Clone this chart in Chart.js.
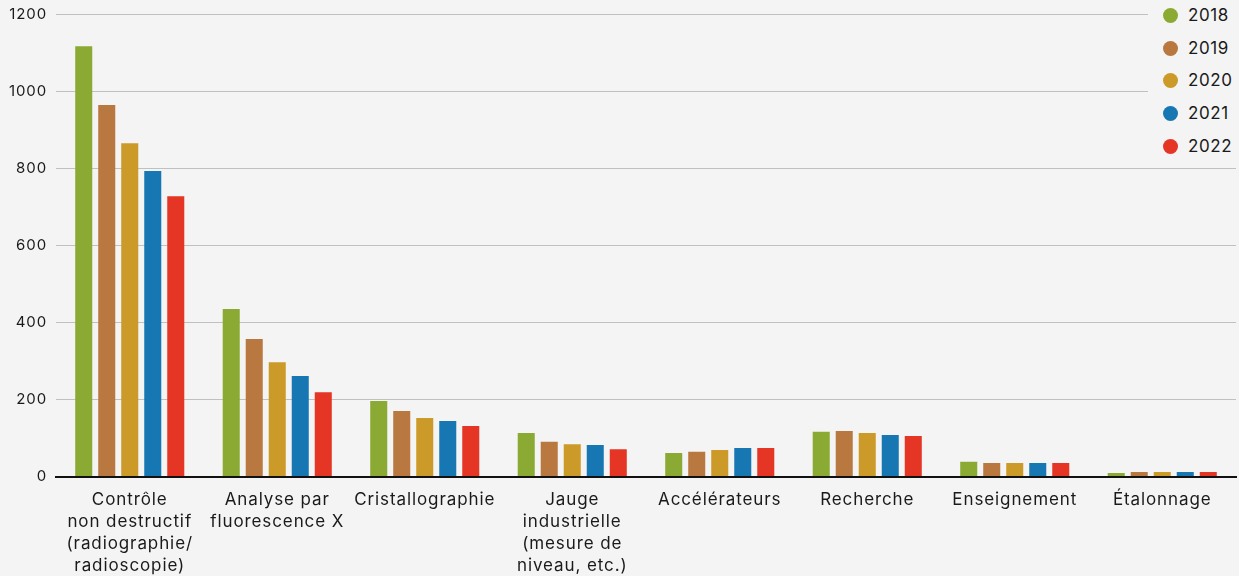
<!DOCTYPE html>
<html>
<head>
<meta charset="utf-8">
<script src="https://cdn.jsdelivr.net/npm/chart.js@4"></script>
<style>
  html, body { margin:0; padding:0; background:#f4f4f4; }
  #wrap { position:relative; width:1239px; height:576px; }
  #legend { position:absolute; left:1148px; top:0; width:91px; height:162px; background:#f4f4f4; font-family: Inter, 'Open Sans', sans-serif; font-size:17px; letter-spacing:0.6px; color:#1a1a1a; }
  .item { position:absolute; left:0; height:20px; line-height:20px; }
  .dot { position:absolute; left:15px; top:2.5px; width:15px; height:15px; border-radius:50%; }
  .lbl { position:absolute; left:40px; top:0; white-space:nowrap; }
</style>
</head>
<body>
<div id="wrap">
  <canvas id="c" width="1239" height="576"></canvas>
  <div id="legend"></div>
</div>
<script>
const categories = [
  ["Contrôle","non destructif","(radiographie/","radioscopie)"],
  ["Analyse par","fluorescence X"],
  "Cristallographie",
  ["Jauge","industrielle","(mesure de","niveau, etc.)"],
  "Accélérateurs",
  "Recherche",
  "Enseignement",
  "Étalonnage"
];
const years = ["2018","2019","2020","2021","2022"];
const v2018 = [1118, 435, 196, 113, 61, 116, 38, 9];
const v2019 = [965, 357, 170, 90, 64, 118, 35, 12];
const v2020 = [866, 297, 152, 84, 69, 113, 35, 12];
const v2021 = [794, 261, 144, 82, 74, 108, 35, 12];
const v2022 = [728, 219, 131, 71, 74, 105, 35, 12];
const yTicks = [0, 200, 400, 600, 800, 1000, 1200];
const colors = ["#8aaa33", "#b87840", "#cc9a28", "#1677b3", "#e53524"];
const series = [v2018, v2019, v2020, v2021, v2022];

const FONT = "Inter, 'Open Sans', sans-serif";

const spacing = {
  id: 'spacing',
  beforeLayout(chart) { chart.ctx.letterSpacing = '0.9px'; },
  beforeDraw(chart) { chart.ctx.letterSpacing = '0.9px'; }
};

new Chart(document.getElementById('c'), {
  type: 'bar',
  data: {
    labels: categories,
    datasets: series.map((d, i) => ({
      label: years[i],
      data: d,
      backgroundColor: colors[i],
      borderWidth: 0,
      categoryPercentage: 0.78,
      barPercentage: 0.74
    }))
  },
  plugins: [spacing],
  options: {
    responsive: false,
    animation: false,
    layout: { padding: { top: 0, right: 3, left: 0, bottom: 0 } },
    plugins: { legend: { display: false }, tooltip: { enabled: false } },
    scales: {
      x: {
        grid: { display: false, drawTicks: false },
        border: { display: true, color: '#111', width: 2 },
        ticks: { color: '#1a1a1a', font: { family: FONT, size: 17, lineHeight: 1.3 }, padding: 12, maxRotation: 0, autoSkip: false },
        afterFit: s => { s.height = 99.5; }
      },
      y: {
        min: 0, max: 1200,
        afterBuildTicks: s => { s.ticks = yTicks.map(v => ({ value: v })); },
        grid: { color: '#c0c0c0', lineWidth: 1, drawTicks: false },
        border: { display: false },
        ticks: { color: '#1a1a1a', font: { family: FONT, size: 15, lineHeight: 0.75 }, padding: 9, callback: v => String(v) },
        afterFit: s => { s.width = 56; }
      }
    }
  }
});

const lg = document.getElementById('legend');
const tops = [15, 48, 80, 113, 146];
years.forEach((y, i) => {
  const it = document.createElement('div');
  it.className = 'item';
  it.style.top = (tops[i] - 10) + 'px';
  it.innerHTML = '<span class="dot" style="background:' + colors[i] + '"></span><span class="lbl">' + y + '</span>';
  lg.appendChild(it);
});
</script>
</body>
</html>
